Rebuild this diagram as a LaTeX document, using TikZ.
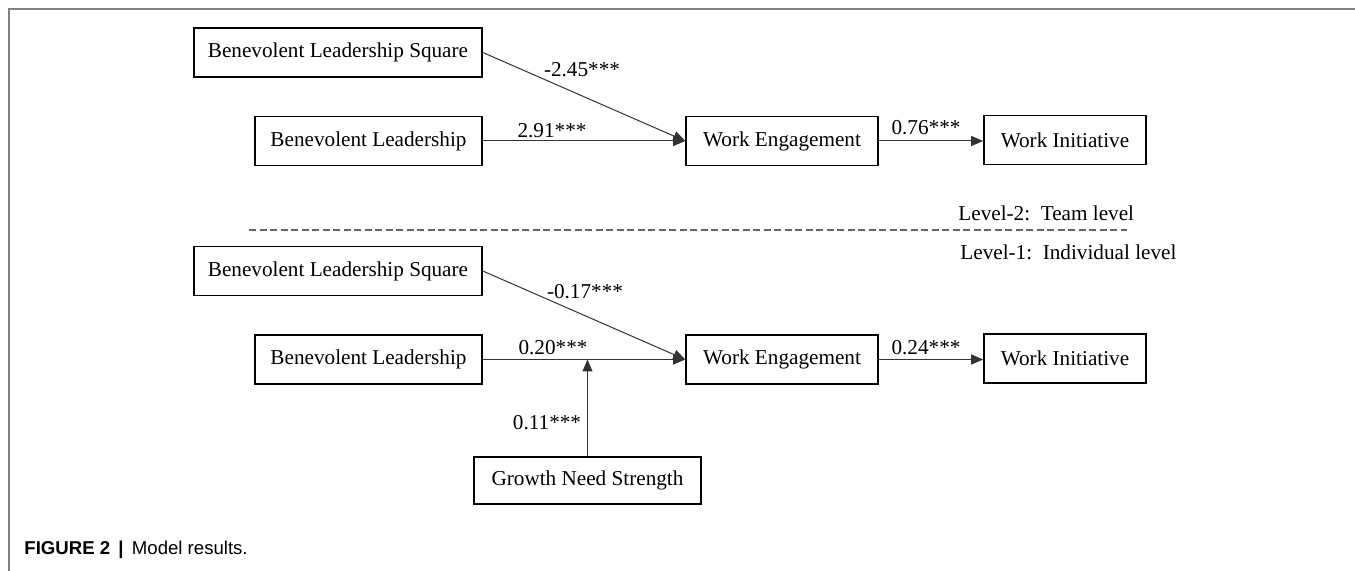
\documentclass[tikz,border=0pt]{standalone}
\usepackage{fontspec}
\setmainfont{Liberation Serif}
\newfontfamily\capfont{Liberation Sans}
\usetikzlibrary{arrows.meta}

\tikzset{
  varbox/.style={draw, line width=0.8pt, inner sep=0pt, minimum height=24.5pt,
    font=\fontsize{10.6}{12}\selectfont},
  effect/.style={-{Triangle[length=6pt,width=5pt]}, line width=0.5pt, draw=black!80},
  coef/.style={inner sep=0pt, font=\fontsize{10.6}{12}\selectfont},
  levelsep/.style={draw=black!60, line width=0.6pt, dash pattern=on 3.5pt off 1.75pt}
}

\begin{document}
\begin{tikzpicture}[x=0.5pt,y=-0.5pt]
        \useasboundingbox (0,0) rectangle (1355,571);
        \draw[gray, line width=0.8pt] (9,571) -- (9,9) -- (1355,9);

        % team level
        \node[varbox, minimum width=144pt]   (bls2) at (338,52.5)  {Benevolent Leadership Square};
        \node[varbox, minimum width=113.5pt] (bl2)  at (368.5,141) {Benevolent Leadership};
        \node[varbox, minimum width=96pt]    (we2)  at (782,141)   {Work Engagement};
        \node[varbox, minimum width=81pt]    (wi2)  at (1065,140)  {Work Initiative};

        \draw[effect] (bls2.east) -- (we2.west);
        \draw[effect] (bl2.east) -- (we2.west);
        \draw[effect] (we2.east) -- (wi2.west |- we2.east);
        \node[coef] (c1) at (582,70)  {-2.45***};
        \node[coef] (c2) at (552,131) {2.91***};
        \node[coef] (c3) at (926,128) {0.76***};

        % levels
        \coordinate (sepl) at (249,230);
        \coordinate (sepr) at (1127,230);
        \draw[levelsep] (sepl) -- (sepr);
        \node[coef, anchor=west] (lv2) at (958,213) {Level-2: \,Team level};
        \node[coef, anchor=west] (lv1) at (960,252) {Level-1: \,Individual level};

        % individual level
        \node[varbox, minimum width=144pt]   (bls1) at (338,271)     {Benevolent Leadership Square};
        \node[varbox, minimum width=113.5pt] (bl1)  at (368.5,359.5) {Benevolent Leadership};
        \node[varbox, minimum width=96pt]    (we1)  at (782,359.5)   {Work Engagement};
        \node[varbox, minimum width=81pt]    (wi1)  at (1065,358.5)  {Work Initiative};
        \node[varbox, minimum width=113.5pt, minimum height=23.5pt] (gns) at (587.5,480.5) {Growth Need Strength};
        \coordinate (mod) at (gns.north |- bl1.east);

        \draw[effect] (bls1.east) -- (we1.west);
        \draw[effect] (bl1.east) -- (we1.west);
        \draw[effect] (we1.east) -- (wi1.west |- we1.east);
        \draw[effect] (gns.north) -- (mod);
        \node[coef] (c4) at (585,292) {-0.17***};
        \node[coef] (c5) at (553,348) {0.20***};
        \node[coef] (c6) at (926,348) {0.24***};
        \node[coef] (c7) at (547,423) {0.11***};

        \node[anchor=west, inner sep=0pt, font=\capfont\fontsize{9.3}{11}\selectfont] (cap) at (24,550)
          {\textbf{FIGURE 2} \,\textbf{|}\, Model results.};
\end{tikzpicture}
\end{document}
